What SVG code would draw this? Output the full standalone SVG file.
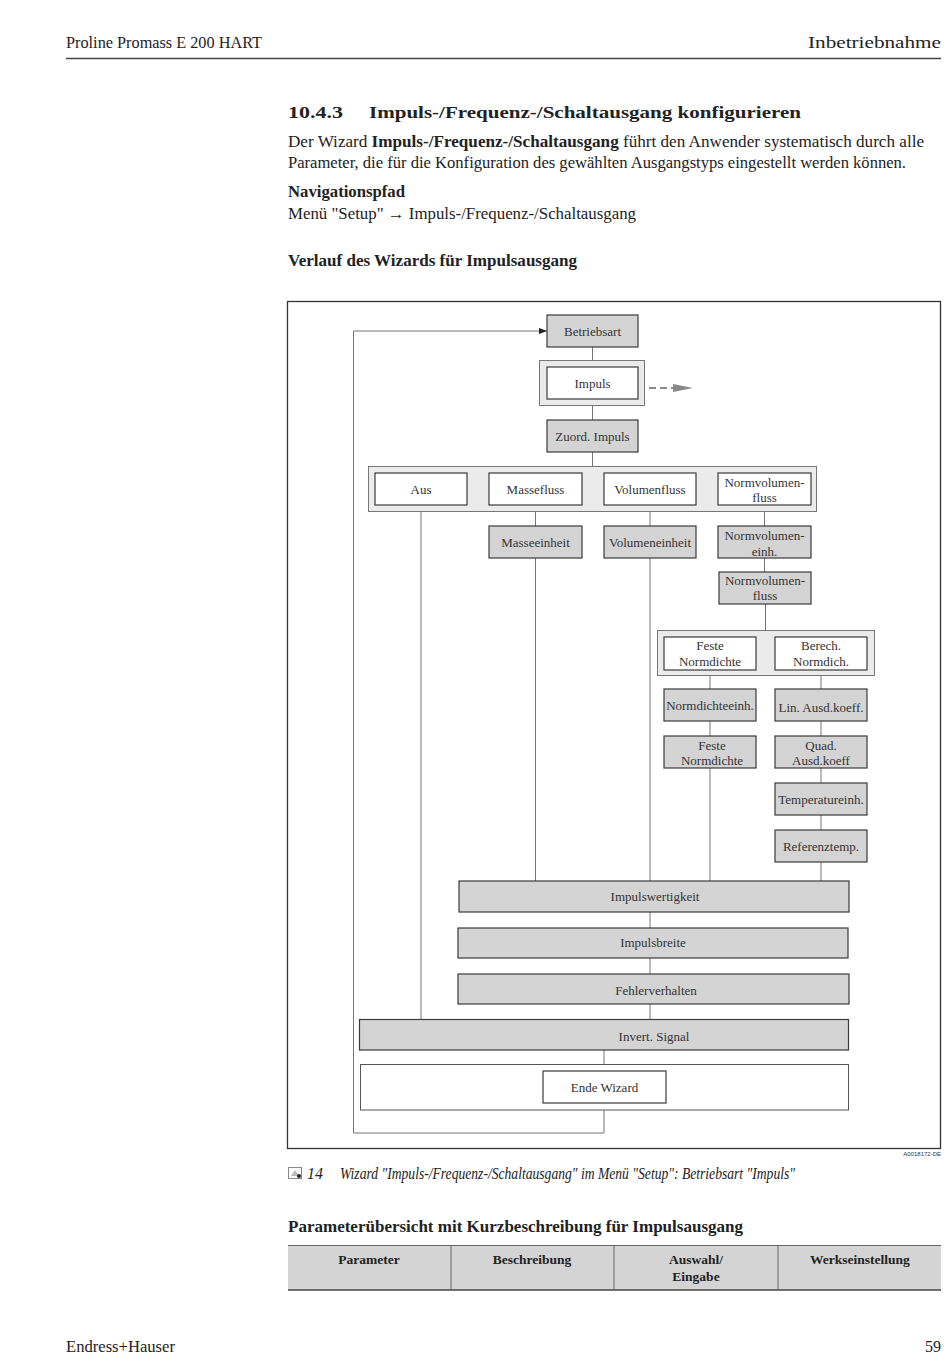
<svg xmlns="http://www.w3.org/2000/svg" width="950" height="1369" viewBox="0 0 950 1369">
<defs>
<style>
.pg{font-family:"Liberation Serif",serif;fill:#222;font-size:16px}
.b{font-weight:bold}
.lbl{font-family:"Liberation Serif",serif;fill:#333;font-size:13px;text-anchor:middle}
.gray{fill:#d4d4d4;stroke:#3a3a3a;stroke-width:1.2}
.white{fill:#fff;stroke:#3a3a3a;stroke-width:1.2}
.grp{fill:#ebebeb;stroke:#777;stroke-width:1}
.con{fill:none;stroke:#777;stroke-width:1}
.th{font-family:"Liberation Serif",serif;font-weight:bold;fill:#222;font-size:13.5px;text-anchor:middle}
</style>
<marker id="ah" markerWidth="8" markerHeight="6" refX="8" refY="3" orient="auto" markerUnits="userSpaceOnUse">
<path d="M0,0 L8,3 L0,6 Z" fill="#222"/>
</marker>
</defs>
<rect width="950" height="1369" fill="#fff"/>

<!-- page header -->
<text class="pg" x="66" y="48" textLength="196" lengthAdjust="spacingAndGlyphs">Proline Promass E 200 HART</text>
<text class="pg" x="808" y="48" textLength="133" lengthAdjust="spacingAndGlyphs">Inbetriebnahme</text>
<line x1="66" y1="58.5" x2="941" y2="58.5" stroke="#444" stroke-width="1.6"/>

<text class="pg b" x="288" y="118" font-size="21" textLength="55" lengthAdjust="spacingAndGlyphs">10.4.3</text>
<text class="pg b" x="369" y="118" font-size="21" textLength="432" lengthAdjust="spacingAndGlyphs">Impuls-/Frequenz-/Schaltausgang konfigurieren</text>
<text class="pg" x="288" y="147" textLength="636" lengthAdjust="spacingAndGlyphs">Der Wizard <tspan class="b">Impuls-/Frequenz-/Schaltausgang</tspan> führt den Anwender systematisch durch alle</text>
<text class="pg" x="288" y="168" textLength="618" lengthAdjust="spacingAndGlyphs">Parameter, die für die Konfiguration des gewählten Ausgangstyps eingestellt werden können.</text>
<text class="pg b" x="288" y="197" textLength="117" lengthAdjust="spacingAndGlyphs">Navigationspfad</text>
<text class="pg" x="288" y="219" textLength="348" lengthAdjust="spacingAndGlyphs">Menü "Setup" → Impuls-/Frequenz-/Schaltausgang</text>
<text class="pg b" x="288" y="266" textLength="289" lengthAdjust="spacingAndGlyphs">Verlauf des Wizards für Impulsausgang</text>

<!-- diagram frame -->
<rect x="287.5" y="301.5" width="653" height="847" fill="#fff" stroke="#333" stroke-width="1.3"/>

<!-- connectors -->
<g id="connectors">
<line class="con" x1="592.5" y1="347" x2="592.5" y2="360"/>
<line class="con" x1="592.5" y1="406" x2="592.5" y2="420"/>
<line class="con" x1="592.5" y1="452" x2="592.5" y2="466"/>
<line class="con" x1="421" y1="512" x2="421" y2="1019"/>
<line class="con" x1="535.5" y1="512" x2="535.5" y2="526"/>
<line class="con" x1="535.5" y1="558" x2="535.5" y2="881"/>
<line class="con" x1="650" y1="512" x2="650" y2="526"/>
<line class="con" x1="650" y1="558" x2="650" y2="881"/>
<line class="con" x1="764.5" y1="512" x2="764.5" y2="526"/>
<line class="con" x1="764.5" y1="558" x2="764.5" y2="572"/>
<line class="con" x1="765.5" y1="604" x2="765.5" y2="630"/>
<line class="con" x1="710" y1="676" x2="710" y2="689"/>
<line class="con" x1="710" y1="721" x2="710" y2="736"/>
<line class="con" x1="710" y1="768" x2="710" y2="881"/>
<line class="con" x1="821" y1="676" x2="821" y2="689"/>
<line class="con" x1="821" y1="721" x2="821" y2="736"/>
<line class="con" x1="821" y1="768" x2="821" y2="783"/>
<line class="con" x1="821" y1="815" x2="821" y2="830"/>
<line class="con" x1="821" y1="862" x2="821" y2="881"/>
<line class="con" x1="650" y1="912" x2="650" y2="928"/>
<line class="con" x1="650" y1="958" x2="650" y2="974"/>
<line class="con" x1="650" y1="1004" x2="650" y2="1019"/>
<line class="con" x1="604" y1="1050" x2="604" y2="1064"/>
<polyline class="con" points="604,1110 604,1133 353.5,1133 353.5,331 547,331" marker-end="url(#ah)"/>
<line x1="649" y1="388" x2="673" y2="388" stroke="#888" stroke-width="2" stroke-dasharray="7,4"/>
<path d="M673,384 L693,388 L673,392 Z" fill="#888"/>
</g>

<g id="n-betriebsart"><rect class="gray" x="547" y="315" width="91" height="32"/><text class="lbl" x="592.5" y="335.5">Betriebsart</text></g>
<g id="n-impuls"><rect class="grp" x="539.5" y="360.5" width="105" height="45"/><rect class="white" x="547" y="367" width="91" height="32"/><text class="lbl" x="592.5" y="388">Impuls</text></g>
<g id="n-zuord"><rect class="gray" x="547" y="420" width="91" height="32"/><text class="lbl" x="592.5" y="441">Zuord. Impuls</text></g>

<g id="n-zuordgroup">
<rect class="grp" x="368.5" y="466.5" width="448" height="45"/>
<g id="n-aus"><rect class="white" x="375" y="473" width="92" height="32"/><text class="lbl" x="421" y="494">Aus</text></g>
<g id="n-massefluss"><rect class="white" x="489" y="473" width="93" height="32"/><text class="lbl" x="535.5" y="494">Massefluss</text></g>
<g id="n-volumenfluss"><rect class="white" x="604" y="473" width="92" height="32"/><text class="lbl" x="650" y="494">Volumenfluss</text></g>
<g id="n-normvolfluss"><rect class="white" x="718" y="473" width="93" height="32"/><text class="lbl" x="764.5" y="486.5">Normvolumen-</text><text class="lbl" x="764.5" y="502">fluss</text></g>
</g>

<g id="n-masseeinheit"><rect class="gray" x="489" y="526" width="93" height="32"/><text class="lbl" x="535.5" y="547">Masseeinheit</text></g>
<g id="n-volumeneinheit"><rect class="gray" x="604" y="526" width="92" height="32"/><text class="lbl" x="650" y="547">Volumeneinheit</text></g>
<g id="n-normvoleinh"><rect class="gray" x="718" y="526" width="93" height="32"/><text class="lbl" x="764.5" y="540">Normvolumen-</text><text class="lbl" x="764.5" y="555.5">einh.</text></g>
<g id="n-normvolfluss2"><rect class="gray" x="719" y="572" width="92" height="32"/><text class="lbl" x="765" y="584.5">Normvolumen-</text><text class="lbl" x="765" y="600">fluss</text></g>

<g id="n-dichtegroup">
<rect class="grp" x="657.5" y="630.5" width="217" height="45"/>
<g id="n-festenormdichte"><rect class="white" x="664" y="637" width="92" height="33"/><text class="lbl" x="710" y="650">Feste</text><text class="lbl" x="710" y="665.5">Normdichte</text></g>
<g id="n-berechnormdich"><rect class="white" x="775" y="637" width="92" height="33"/><text class="lbl" x="821" y="650">Berech.</text><text class="lbl" x="821" y="665.5">Normdich.</text></g>
</g>

<g id="n-normdichteeinh"><rect class="gray" x="664" y="689" width="92" height="32"/><text class="lbl" x="710" y="709.5">Normdichteeinh.</text></g>
<g id="n-linausd"><rect class="gray" x="775" y="689" width="92" height="32"/><text class="lbl" x="821" y="712">Lin. Ausd.koeff.</text></g>
<g id="n-festenormdichte2"><rect class="gray" x="664" y="736" width="92" height="32"/><text class="lbl" x="712" y="749.5">Feste</text><text class="lbl" x="712" y="765">Normdichte</text></g>
<g id="n-quadausd"><rect class="gray" x="775" y="736" width="92" height="32"/><text class="lbl" x="821" y="749.5">Quad.</text><text class="lbl" x="821" y="765">Ausd.koeff</text></g>
<g id="n-tempeinh"><rect class="gray" x="775" y="783" width="92" height="32"/><text class="lbl" x="821" y="803.5">Temperatureinh.</text></g>
<g id="n-referenztemp"><rect class="gray" x="775" y="830" width="92" height="32"/><text class="lbl" x="821" y="851">Referenztemp.</text></g>

<g id="n-impulswertigkeit"><rect class="gray" x="459" y="881" width="390" height="31"/><text class="lbl" x="655" y="901">Impulswertigkeit</text></g>
<g id="n-impulsbreite"><rect class="gray" x="458" y="928" width="390" height="30"/><text class="lbl" x="653" y="947">Impulsbreite</text></g>
<g id="n-fehlerverhalten"><rect class="gray" x="458" y="974" width="391" height="30"/><text class="lbl" x="656" y="995">Fehlerverhalten</text></g>
<g id="n-invert"><rect class="gray" x="359.5" y="1019.5" width="489" height="30.5"/><text class="lbl" x="654" y="1041">Invert. Signal</text></g>
<g id="n-ende"><rect x="360.5" y="1064.5" width="488" height="45.5" fill="#fff" stroke="#555" stroke-width="1"/><rect class="white" x="543" y="1071" width="123" height="32"/><text class="lbl" x="604.5" y="1092">Ende Wizard</text></g>

<text x="941" y="1156" font-family="Liberation Sans,sans-serif" font-size="6" fill="#333" text-anchor="end">A0018172-DE</text>

<!-- caption -->
<g id="caption-icon">
<rect x="288.5" y="1167.5" width="13" height="11" fill="#fff" stroke="#888" stroke-width="1"/>
<path d="M291,1176 L295,1170 L299,1176 Z" fill="#bbb"/>
<circle cx="299" cy="1176" r="2" fill="#222"/>
</g>
<text class="pg" x="307" y="1179" font-size="14" font-style="italic">14</text>
<text class="pg" x="340" y="1179" font-size="14" font-style="italic" textLength="455" lengthAdjust="spacingAndGlyphs">Wizard "Impuls-/Frequenz-/Schaltausgang" im Menü "Setup": Betriebsart "Impuls"</text>

<text class="pg b" x="288" y="1232" font-size="17" textLength="455" lengthAdjust="spacingAndGlyphs">Parameterübersicht mit Kurzbeschreibung für Impulsausgang</text>

<g id="table">
<rect x="288" y="1245" width="653" height="45" fill="#d4d4d4"/>
<line x1="288" y1="1245.5" x2="941" y2="1245.5" stroke="#666" stroke-width="1"/>
<line x1="288" y1="1290" x2="941" y2="1290" stroke="#444" stroke-width="1.5"/>
<line x1="451" y1="1245" x2="451" y2="1290" stroke="#666" stroke-width="1"/>
<line x1="614" y1="1245" x2="614" y2="1290" stroke="#666" stroke-width="1"/>
<line x1="778" y1="1245" x2="778" y2="1290" stroke="#666" stroke-width="1"/>
<text class="th" x="369" y="1264">Parameter</text>
<text class="th" x="532" y="1264">Beschreibung</text>
<text class="th" x="696" y="1264">Auswahl/</text>
<text class="th" x="696" y="1281">Eingabe</text>
<text class="th" x="860" y="1264">Werkseinstellung</text>
</g>

<text class="pg" x="66" y="1352" textLength="109" lengthAdjust="spacingAndGlyphs">Endress+Hauser</text>
<text class="pg" x="941" y="1352" text-anchor="end">59</text>
</svg>
